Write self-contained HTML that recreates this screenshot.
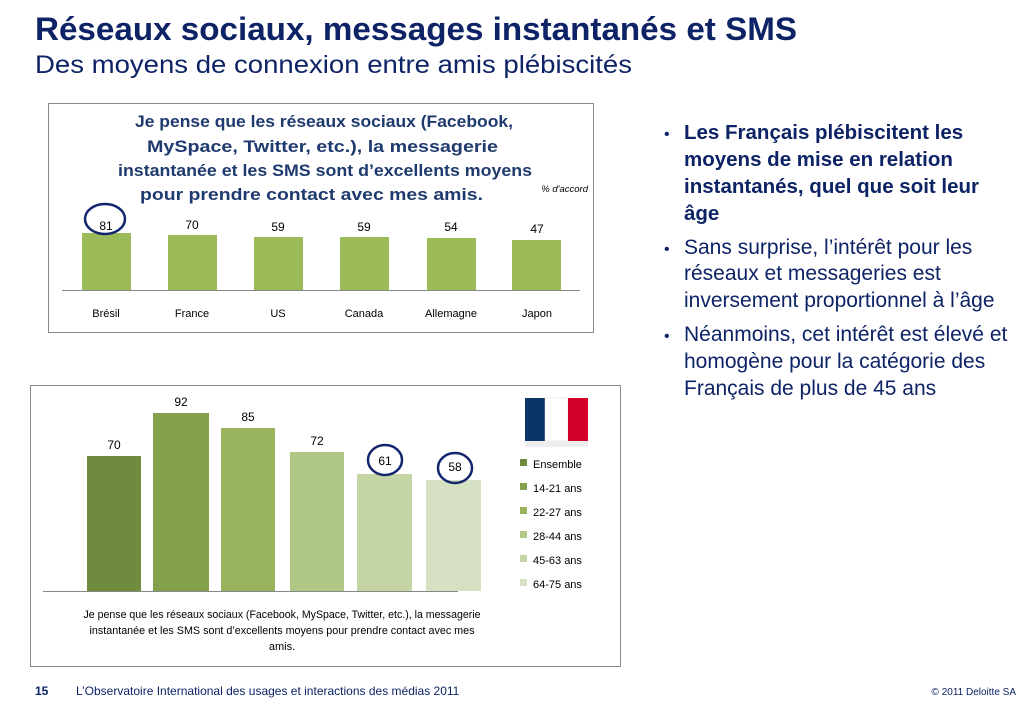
<!DOCTYPE html>
<html><head><meta charset="utf-8"><style>
html,body{margin:0;padding:0;background:#fff;}
svg{display:block;}
text{font-family:"Liberation Sans",Arial,sans-serif;}
</style></head><body>
<svg width="1032" height="707" viewBox="0 0 1032 707" xmlns="http://www.w3.org/2000/svg">
<text x="35" y="40" font-size="32" font-weight="bold" fill="#0d2366" textLength="762" lengthAdjust="spacingAndGlyphs">Réseaux sociaux, messages instantanés et SMS</text>
<text x="35" y="73" font-size="25" fill="#0d2366" textLength="597" lengthAdjust="spacingAndGlyphs">Des moyens de connexion entre amis plébiscités</text>

<!-- top chart -->
<rect x="48.5" y="103.5" width="545" height="229" fill="#fff" stroke="#8a8a8a" stroke-width="1"/>
<g font-size="17" font-weight="bold" fill="#1f3a6e">
<text x="135" y="127" textLength="378" lengthAdjust="spacingAndGlyphs">Je pense que les réseaux sociaux (Facebook,</text>
<text x="147" y="152" textLength="351" lengthAdjust="spacingAndGlyphs">MySpace, Twitter, etc.), la messagerie</text>
<text x="118" y="176" textLength="414" lengthAdjust="spacingAndGlyphs">instantanée et les SMS sont d’excellents moyens</text>
<text x="140" y="200" textLength="343" lengthAdjust="spacingAndGlyphs">pour prendre contact avec mes amis.</text>
</g>
<text x="588" y="192" font-size="9.5" font-style="italic" fill="#000" text-anchor="end">% d'accord</text>
<g fill="#9bbb59">
<rect x="82" y="233" width="49" height="57"/>
<rect x="168" y="235" width="49" height="55"/>
<rect x="254" y="237" width="49" height="53"/>
<rect x="340" y="237" width="49" height="53"/>
<rect x="427" y="238" width="49" height="52"/>
<rect x="512" y="240" width="49" height="50"/>
</g>
<line x1="62" y1="290.5" x2="580" y2="290.5" stroke="#888" stroke-width="1"/>
<g font-size="12" fill="#000" text-anchor="middle">
<text x="106" y="230">81</text><text x="192" y="229">70</text><text x="278" y="231">59</text>
<text x="364" y="231">59</text><text x="451" y="231">54</text><text x="537" y="233">47</text>
</g>
<g font-size="11" fill="#000" text-anchor="middle">
<text x="106" y="317">Brésil</text><text x="192" y="317">France</text><text x="278" y="317">US</text>
<text x="364" y="317">Canada</text><text x="451" y="317">Allemagne</text><text x="537" y="317">Japon</text>
</g>
<ellipse cx="105" cy="219" rx="20" ry="15" fill="none" stroke="#13266e" stroke-width="2.5"/>

<!-- bottom chart -->
<rect x="30.5" y="385.5" width="590" height="281" fill="#fff" stroke="#8a8a8a" stroke-width="1"/>
<rect x="87" y="456" width="54" height="135" fill="#6f8c3e"/>
<rect x="153" y="413" width="56" height="178" fill="#83a04c"/>
<rect x="221" y="428" width="54" height="163" fill="#98b35c"/>
<rect x="290" y="452" width="54" height="139" fill="#b0c785"/>
<rect x="357" y="474" width="55" height="117" fill="#c4d4a4"/>
<rect x="426" y="480" width="55" height="111" fill="#d6e1c4"/>
<line x1="43" y1="591.5" x2="458" y2="591.5" stroke="#888" stroke-width="1"/>
<g font-size="12" fill="#000" text-anchor="middle">
<text x="114" y="449">70</text><text x="181" y="406">92</text><text x="248" y="421">85</text>
<text x="317" y="445">72</text><text x="385" y="465">61</text><text x="455" y="471">58</text>
</g>
<ellipse cx="385" cy="460" rx="17" ry="15" fill="none" stroke="#13266e" stroke-width="2.5"/>
<ellipse cx="455" cy="468" rx="17" ry="15" fill="none" stroke="#13266e" stroke-width="2.5"/>
<!-- flag -->
<rect x="525" y="398" width="20" height="43" fill="#0b3566"/>
<rect x="545" y="398" width="23" height="43" fill="#fff" stroke="#ddd" stroke-width="0.5"/>
<rect x="568" y="398" width="20" height="43" fill="#d4002a"/>
<rect x="525" y="441" width="63" height="6" fill="#eee"/>
<g font-size="11" fill="#000">
<rect x="520" y="459" width="7" height="7" fill="#6f8c3e"/><text x="533" y="468">Ensemble</text>
<rect x="520" y="483" width="7" height="7" fill="#83a04c"/><text x="533" y="492">14-21 ans</text>
<rect x="520" y="507" width="7" height="7" fill="#98b35c"/><text x="533" y="516">22-27 ans</text>
<rect x="520" y="531" width="7" height="7" fill="#b0c785"/><text x="533" y="540">28-44 ans</text>
<rect x="520" y="555" width="7" height="7" fill="#c4d4a4"/><text x="533" y="564">45-63 ans</text>
<rect x="520" y="579" width="7" height="7" fill="#d6e1c4"/><text x="533" y="588">64-75 ans</text>
</g>
<g font-size="11" fill="#000" text-anchor="middle">
<text x="282" y="618" textLength="397" lengthAdjust="spacingAndGlyphs">Je pense que les réseaux sociaux (Facebook, MySpace, Twitter,  etc.), la messagerie</text>
<text x="282" y="634" textLength="385" lengthAdjust="spacingAndGlyphs">instantanée et les SMS sont d’excellents moyens pour prendre contact avec mes</text>
<text x="282" y="650">amis.</text>
</g>

<!-- bullets -->
<g font-size="21" fill="#0d2366">
<text x="664" y="139" font-size="16">•</text>
<g font-weight="bold" font-size="20.5">
<text x="684" y="139">Les Français plébiscitent les</text>
<text x="684" y="166">moyens de mise en relation</text>
<text x="684" y="193">instantanés, quel que soit leur</text>
<text x="684" y="220">âge</text>
</g>
<text x="664" y="254" font-size="16">•</text>
<text x="684" y="254">Sans surprise, l’intérêt pour les</text>
<text x="684" y="280">réseaux et messageries est</text>
<text x="684" y="307">inversement proportionnel à l’âge</text>
<text x="664" y="341" font-size="16">•</text>
<text x="684" y="341">Néanmoins, cet intérêt est élevé et</text>
<text x="684" y="368">homogène pour la catégorie des</text>
<text x="684" y="395">Français  de plus de 45 ans</text>
</g>

<!-- footer -->
<text x="35" y="695" font-size="12" font-weight="bold" fill="#0d2366">15</text>
<text x="76" y="695" font-size="12" fill="#0d2366">L’Observatoire International des usages et interactions des médias 2011</text>
<text x="1016" y="695" font-size="10" fill="#0d2366" text-anchor="end">© 2011 Deloitte SA</text>
</svg>
</body></html>
